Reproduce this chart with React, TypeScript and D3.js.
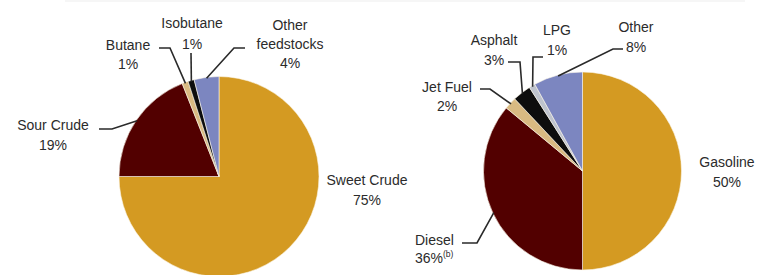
import React from "react";
import * as d3 from "d3";

// ---- Data ----
const inputLabels = ["Sweet Crude", "Sour Crude", "Butane", "Isobutane", "Other feedstocks"];
const inputValues = [75, 19, 1, 1, 4];
const outputLabels = ["Gasoline", "Diesel", "Jet Fuel", "Asphalt", "LPG", "Other"];
const outputValues = [50, 36, 2, 3, 1, 8];

// ---- Styles ----
const inputColors = ["#D49A22", "#520000", "#D9BA82", "#0d0d0d", "#7C86C0"];
const outputColors = ["#D49A22", "#520000", "#D9BA82", "#0d0d0d", "#BEC3CD", "#7C86C0"];

// ---- Layout of labels (text lines, anchor, leader elbows) ----
type LabelLayout = {
  lines: string[];
  x: number;
  y: number;
  lh: number;
  anchor: "middle" | "start";
  leader?: [number, number][];
  sup?: string;
};

const inputLayout: LabelLayout[] = [
  { lines: [inputLabels[0].split(" ").join(" "), "75%"], x: 367, y: 185, lh: 20, anchor: "middle" },
  { lines: [inputLabels[1], "19%"], x: 53, y: 130, lh: 20, anchor: "middle", leader: [[99, 129], [112, 129]] },
  { lines: [inputLabels[2], "1%"], x: 128, y: 50, lh: 18.5, anchor: "middle", leader: [[159, 48], [170, 48]] },
  { lines: [inputLabels[3], "1%"], x: 192, y: 28, lh: 21, anchor: "middle", leader: [[191, 53]] },
  { lines: ["Other", "feedstocks", "4%"], x: 290, y: 30, lh: 19, anchor: "middle", leader: [[245, 48], [234, 48]] },
];

const outputLayout: LabelLayout[] = [
  { lines: [outputLabels[0], "50%"], x: 727, y: 167, lh: 20, anchor: "middle" },
  { lines: [outputLabels[1], "36%"], x: 415, y: 245, lh: 18, anchor: "start", sup: "(b)", leader: [[462, 243], [477, 243]] },
  { lines: [outputLabels[2], "2%"], x: 447, y: 92, lh: 19, anchor: "middle", leader: [[480, 89], [490, 89]] },
  { lines: [outputLabels[3], "3%"], x: 494, y: 45, lh: 20, anchor: "middle", leader: [[508, 62], [520, 62]] },
  { lines: [outputLabels[4], "1%"], x: 557, y: 35, lh: 20, anchor: "middle", leader: [[543, 57], [533, 57]] },
  { lines: [outputLabels[5], "8%"], x: 636, y: 32, lh: 20, anchor: "middle", leader: [[623, 49], [613, 49]] },
];

const FONT = "'Liberation Sans', Arial, Helvetica, sans-serif";
const TEXT_COLOR = "#2b2b2b";

function Pie({
  values,
  colors,
  layout,
  cx,
  cy,
  r,
}: {
  values: number[];
  colors: string[];
  layout: LabelLayout[];
  cx: number;
  cy: number;
  r: number;
}) {
  const pie = d3.pie<number>().sort(null).value((d) => d);
  const arcs = pie(values);
  const arcGen = d3.arc<d3.PieArcDatum<number>>().innerRadius(0).outerRadius(r);
  const line = d3.line();

  return (
    <g>
      <g transform={`translate(${cx},${cy})`}>
        {arcs.map((a, i) => (
          <path key={i} d={arcGen(a) || ""} fill={colors[i]} stroke="#fbf6ea" strokeWidth={0.6} />
        ))}
      </g>
      {layout.map((l, i) => {
        const a = arcs[i];
        const mid = (a.startAngle + a.endAngle) / 2;
        const end: [number, number] = [cx + Math.sin(mid) * r * 0.99, cy - Math.cos(mid) * r * 0.99];
        return (
          <g key={i}>
            {l.leader && (
              <path
                d={line([...l.leader, end]) || ""}
                fill="none"
                stroke="#2a2a2a"
                strokeWidth={1.6}
              />
            )}
            <text
              x={l.x}
              y={l.y}
              textAnchor={l.anchor}
              fontFamily={FONT}
              fontSize={14}
              fill={TEXT_COLOR}
            >
              {l.lines.map((t, j) => (
                <tspan key={j} x={l.x} y={l.y + j * l.lh}>
                  {t}
                </tspan>
              ))}
              {l.sup && (
                <tspan fontSize={8.5} dy={-6}>
                  {l.sup}
                </tspan>
              )}
            </text>
          </g>
        );
      })}
    </g>
  );
}

export default function App() {
  return (
    <svg
      width={763}
      height={275}
      style={{ position: "absolute", left: 0, top: 0, background: "#fff" }}
    >
      <rect x={0} y={0} width={763} height={275} fill="#fff" />
      <rect x={65} y={0} width={680} height={2} fill="#f6f6f6" />
      <Pie values={inputValues} colors={inputColors} layout={inputLayout} cx={219} cy={176.5} r={100} />
      <Pie values={outputValues} colors={outputColors} layout={outputLayout} cx={582.5} cy={171} r={99} />
    </svg>
  );
}
